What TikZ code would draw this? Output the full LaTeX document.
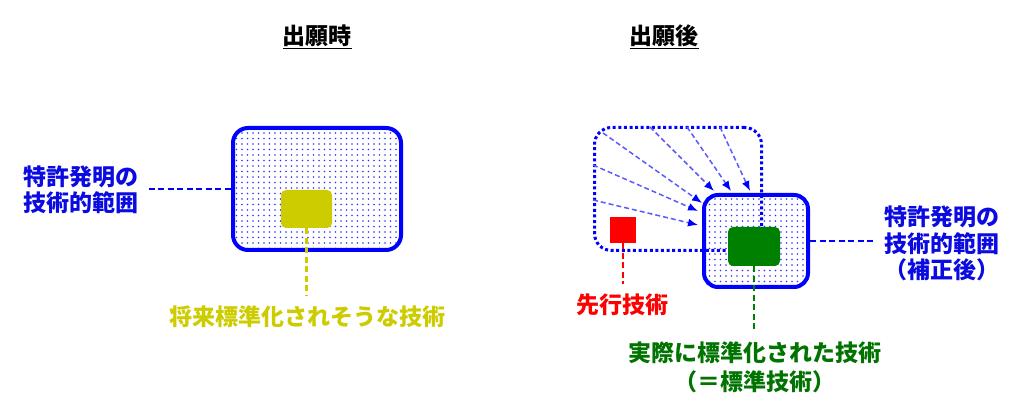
\documentclass[tikz,border=0pt]{standalone}
\usepackage{fontspec}
\newfontfamily\jpfont{Noto Sans CJK JP}
\usetikzlibrary{arrows.meta,patterns.meta,positioning}

\definecolor{rangeblue}{RGB}{0,0,255}
\definecolor{textblue}{RGB}{10,10,225}
\definecolor{futyellow}{RGB}{204,204,0}
\definecolor{stdgreen}{RGB}{0,128,0}
\definecolor{artred}{RGB}{255,0,0}
\definecolor{shiftblue}{RGB}{90,90,255}

\tikzset{
  scopebox/.style={draw=rangeblue, line width=4pt, rounded corners=15pt,
    pattern={Dots[distance=5.5pt,radius=0.8pt]}, pattern color=blue!80},
  oldscope/.style={draw=rangeblue, line width=3pt, rounded corners=17pt,
    dash pattern=on 3pt off 2.6pt},
  techbox/.style={rounded corners=5pt},
  lbl/.style={font=\jpfont\bfseries\fontsize{23}{26.5}\selectfont,
    inner sep=0pt, outer sep=10pt, align=center},
  title/.style={font=\jpfont\bfseries\fontsize{23}{26}\selectfont, inner sep=0pt},
  leader/.style={line width=2.4pt, dash pattern=on 6pt off 3.5pt},
  shiftarrow/.style={shiftblue, line width=1.5pt, dash pattern=on 5pt off 3pt,
    -{Latex[length=10pt,width=8pt,color=rangeblue]}}
}

\begin{document}
\begin{tikzpicture}[x=1pt,y=-1pt]
\useasboundingbox (0,0) rectangle (1024,419);

% Titles
\node[title] (tfiling) at (317,37) {\underline{出願時}};
\node[title] (tafter) at (664,37) {\underline{出願後}};

% At filing
\node[scopebox, minimum width=168pt, minimum height=122pt] (claim1) at (317,189) {};
\node[techbox, fill=futyellow, minimum width=51pt, minimum height=38pt] (fut) at (306.5,209) {};
\node[lbl, textblue] (claimlbl1) at (81,190) {特許発明の\\技術的範囲};
\node[lbl, futyellow] (futlbl) at (307,317) {将来標準化されそうな技術};
\draw[leader, rangeblue] (claimlbl1.east |- claim1.west) -- (claim1.west);
\draw[leader, futyellow] (fut.south) -- (fut.south |- futlbl.north);

% After filing
\node[scopebox, rounded corners=14pt, minimum width=104pt, minimum height=92pt] (claim2) at (756,241) {};
\node[oldscope, minimum width=167pt, minimum height=123pt] (oldclaim) at (678,189) {};
\node[techbox, fill=stdgreen, minimum width=52pt, minimum height=39pt] (std) at (754,246.5) {};
\node[fill=artred, minimum width=26pt, minimum height=26pt, inner sep=0pt] (prior) at (623,230) {};

% Narrowing arrows
\foreach \sx/\sy/\ex/\ey in {603/133/702/203, 593/165/698/211, 593/200/698/225,
                            650/127/714/191, 687/127/731/191, 720/127/750/191} {
  \draw[shiftarrow] (\sx,\sy) -- (\ex,\ey);
}

% Labels
\node[lbl, artred] (priorlbl) at (622,305) {先行技術};
\node[lbl, stdgreen!90!black] (stdlbl) at (755,367.5) {実際に標準化された技術\\[2pt]（＝標準技術）};
\node[lbl, textblue] (claimlbl2) at (942,243.5) {特許発明の\\技術的範囲\\（補正後）};
\draw[leader, artred] (prior.south) -- (prior.south |- priorlbl.north);
\draw[leader, stdgreen] (std.south) -- (std.south |- stdlbl.north);
\draw[leader, rangeblue] (claim2.east) -- (claim2.east -| claimlbl2.west);
\end{tikzpicture}
\end{document}
